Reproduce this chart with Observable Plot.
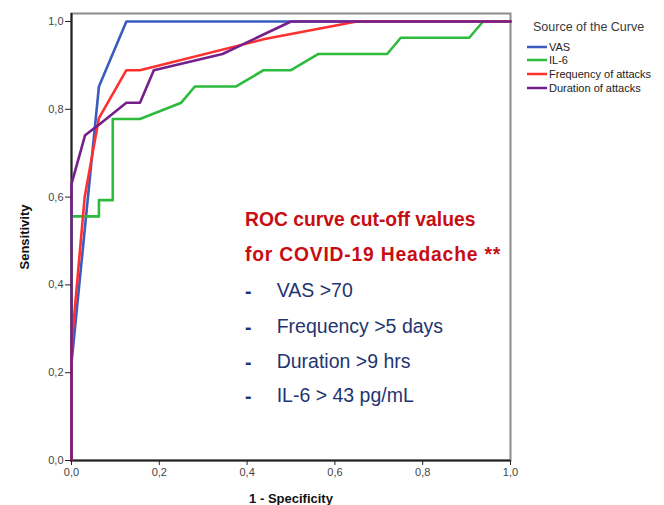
<!DOCTYPE html>
<html>
<head>
<meta charset="utf-8">
<script src="https://cdn.jsdelivr.net/npm/d3@7"></script>
<script src="https://cdn.jsdelivr.net/npm/@observablehq/plot@0.6"></script>
<style>
  html, body { margin: 0; padding: 0; background: #fff; }
  #wrap { position: relative; width: 664px; height: 505px; overflow: hidden; }
  #legend { position: absolute; left: 527px; top: 18px; font-family: "Liberation Sans", Arial, sans-serif; color: #333; }
  #legend .title { font-size: 12.5px; margin-left: 6px; height: 22px; line-height: 18px; color: #3a3a3a; }
  #legend .item { display: flex; align-items: center; height: 13.6px; font-size: 11px; color: #222; }
  #legend .item svg { margin-right: 2px; }
  #note { position: absolute; left: 245px; top: 0; font-family: "Liberation Sans", Arial, sans-serif; line-height: normal; }
  #note div { position: absolute; white-space: nowrap; }
  .red { color: #c70d14; font-weight: bold; font-size: 19.3px; }
  .red.wide { letter-spacing: 0.8px; }
  .blue { color: #1f3570; font-size: 19.5px; }
  .dash { color: #1f3570; font-size: 19.5px; font-weight: bold; }
</style>
</head>
<body>
<div id="wrap"></div>
<script>
// ---- data ----
const seriesNames = ["VAS", "IL-6", "Frequency of attacks", "Duration of attacks"];
const seriesColors = ["#3a5bbf", "#2dbb3e", "#ff3030", "#75208a"];

const vasX  = [0, 0, 0.0625, 0.125, 1];
const vasY  = [0, 0.222, 0.852, 1, 1];

const il6X  = [0, 0, 0.0625, 0.0625, 0.094, 0.094, 0.156, 0.25, 0.281, 0.375, 0.4375, 0.5, 0.5625, 0.719, 0.75, 0.906, 0.9375, 1];
const il6Y  = [0, 0.556, 0.556, 0.593, 0.593, 0.778, 0.778, 0.815, 0.852, 0.852, 0.889, 0.889, 0.926, 0.926, 0.963, 0.963, 1, 1];

const freqX = [0, 0, 0.03, 0.0625, 0.125, 0.156, 0.44, 0.65, 1];
const freqY = [0, 0.26, 0.6, 0.78, 0.889, 0.889, 0.96, 1, 1];

const durX  = [0, 0, 0.031, 0.0625, 0.125, 0.156, 0.1875, 0.344, 0.5, 1];
const durY  = [0, 0.63, 0.741, 0.765, 0.815, 0.815, 0.889, 0.926, 1, 1];

const xTicks = [0, 0.2, 0.4, 0.6, 0.8, 1.0];
const yTicks = [0, 0.2, 0.4, 0.6, 0.8, 1.0];

const noteTitle = ["ROC curve cut-off values", "for COVID-19 Headache **"];
const noteItems = ["VAS >70", "Frequency >5 days", "Duration >9 hrs", "IL-6 > 43 pg/mL"];

// ---- build table ----
const xs = [vasX, il6X, freqX, durX];
const ys = [vasY, il6Y, freqY, durY];
const rows = [];
seriesNames.forEach((s, i) => xs[i].forEach((x, j) => rows.push({series: s, x, y: ys[i][j]})));

const fmt = d => d3.format(".1f")(d).replace(".", ",");

const chart = Plot.plot({
  width: 664,
  height: 505,
  marginLeft: 71,
  marginRight: 154,
  marginTop: 13,
  marginBottom: 45,
  style: {fontFamily: "'Liberation Sans', Arial, sans-serif", fontSize: "11px", color: "#333", background: "white"},
  x: {domain: [0, 1], label: null},
  y: {domain: [0, 1.0182], label: null},
  color: {domain: seriesNames, range: seriesColors},
  marks: [
    Plot.frame({stroke: "#8c8c8c", strokeWidth: 2}),
    Plot.ruleY([0], {stroke: "#222", strokeWidth: 2}),
    Plot.ruleX([0], {stroke: "#222", strokeWidth: 2}),
    Plot.line(rows, {x: "x", y: "y", z: "series", stroke: "series", strokeWidth: 2.6, curve: "linear"}),
    Plot.axisX({ticks: xTicks, tickFormat: fmt, tickSize: 5, tickPadding: 3, stroke: "#222", fill: "#444",
      label: "1 - Specificity", labelAnchor: "center", labelArrow: "none", labelOffset: 42}),
    Plot.axisY({ticks: yTicks, tickFormat: fmt, tickSize: 6, tickPadding: 2, stroke: "#222", fill: "#444",
      label: "Sensitivity", labelAnchor: "center", labelArrow: "none", labelOffset: 52})
  ]
});

// bold axis titles
chart.querySelectorAll('g[aria-label="x-axis label"] text, g[aria-label="y-axis label"] text').forEach(t => {
  t.setAttribute("font-weight", "bold");
  t.setAttribute("font-size", "13px");
  t.setAttribute("fill", "#111");
});

const wrap = document.getElementById("wrap");
wrap.appendChild(chart);

// legend
const legend = document.createElement("div");
legend.id = "legend";
legend.innerHTML = `<div class="title">Source of the Curve</div>` +
  seriesNames.map((s, i) => `<div class="item"><svg width="20" height="6"><line x1="0" x2="20" y1="3" y2="3" stroke="${seriesColors[i]}" stroke-width="2.5"/></svg>${s}</div>`).join("");
wrap.appendChild(legend);

// annotation
const note = document.createElement("div");
note.id = "note";
const titleTops = [209.2, 244.2];
const itemTops = [279, 315.4, 350.4, 384];
let html = noteTitle.map((t, i) => `<div class="red${i === 1 ? " wide" : ""}" style="top:${titleTops[i]}px">${t}</div>`).join("");
html += noteItems.map((t, i) => `<div class="dash" style="top:${itemTops[i] + 1}px;left:0">-</div><div class="blue" style="top:${itemTops[i]}px;left:31.7px">${t}</div>`).join("");
note.innerHTML = html;
wrap.appendChild(note);
</script>
</body>
</html>
